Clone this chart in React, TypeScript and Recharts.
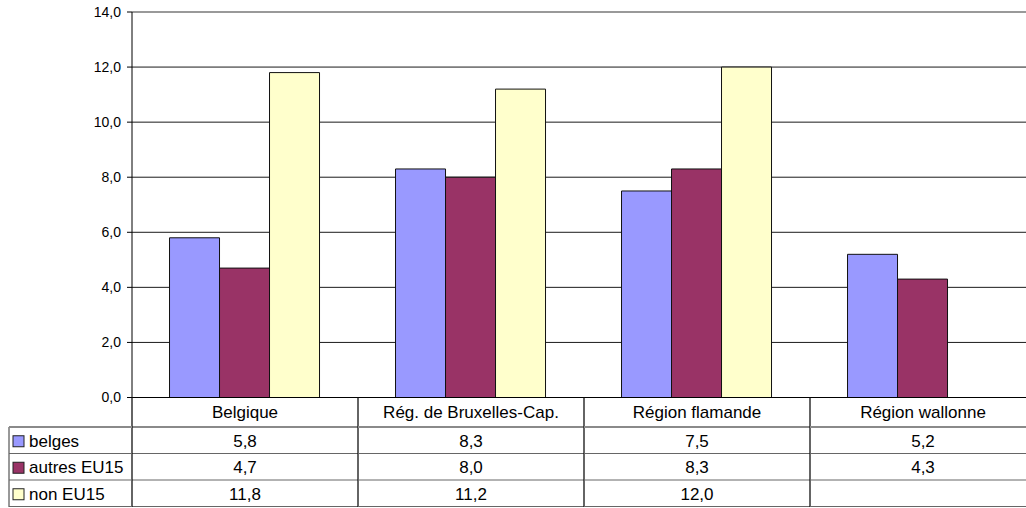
import { BarChart, Bar, XAxis, YAxis, CartesianGrid, ReferenceLine } from 'recharts';

const categories = ['Belgique', 'Rég. de Bruxelles-Cap.', 'Région flamande', 'Région wallonne'];
const belges = [5.8, 8.3, 7.5, 5.2];
const autresEU15 = [4.7, 8.0, 8.3, 4.3];
const nonEU15: (number | null)[] = [11.8, 11.2, 12.0, null];
const yTicks = [0, 2, 4, 6, 8, 10, 12, 14];

const series = [
  { key: 'belges', name: 'belges', color: '#9999FF', values: belges },
  { key: 'autres', name: 'autres EU15', color: '#993366', values: autresEU15 },
  { key: 'non', name: 'non EU15', color: '#FFFFCC', values: nonEU15 },
];

const data = categories.map((name, i) => ({
  name,
  belges: belges[i],
  autres: autresEU15[i],
  non: nonEU15[i],
}));

const FONT = '"Liberation Sans", Arial, sans-serif';
const fmt = (v: number | null | undefined) => (v == null ? '' : v.toFixed(1).replace('.', ','));

// table layout (svg coords)
const AXIS_Y = 397.5;
const ROWS = [427, 453.5, 480, 506.5];
const HALF = 113;
const LEGEND_LEFT = 9;
const PLOT_LEFT = 132;

function TableTick(props: any) {
  const { x, payload } = props;
  const i = payload.index;
  const left = x - HALF;
  const right = x + HALF;
  return (
    <g fontFamily={FONT} fontSize={17} fill="#000">
      <text x={x} y={412} textAnchor="middle" dominantBaseline="central" fill="#000">
        {payload.value}
      </text>
      {series.map((s, r) => (
        <text
          key={s.key}
          x={x}
          y={(ROWS[r] + ROWS[r + 1]) / 2 + 1}
          textAnchor="middle"
          dominantBaseline="central"
          fill="#000"
        >
          {fmt(s.values[i])}
        </text>
      ))}
      <line x1={left} x2={right} y1={ROWS[0]} y2={ROWS[0]} stroke="#8a8a8a" strokeWidth={2} />
      {ROWS.slice(1).map((ry) => (
        <line key={ry} x1={left} x2={right} y1={ry} y2={ry} stroke="#666" strokeWidth={1} />
      ))}
      <line x1={right} x2={right} y1={AXIS_Y} y2={507} stroke="#111" strokeWidth={1.3} />
      {i === 0 && (
        <g>
          <line x1={left} x2={left} y1={AXIS_Y} y2={507} stroke="#111" strokeWidth={1.3} />
          <line x1={LEGEND_LEFT} x2={LEGEND_LEFT} y1={ROWS[0]} y2={507} stroke="#333" strokeWidth={1} />
          <line x1={LEGEND_LEFT} x2={PLOT_LEFT} y1={ROWS[0]} y2={ROWS[0]} stroke="#8a8a8a" strokeWidth={2} />
          {ROWS.slice(1).map((ry) => (
            <line key={ry} x1={LEGEND_LEFT} x2={PLOT_LEFT} y1={ry} y2={ry} stroke="#666" strokeWidth={1} />
          ))}
          {series.map((s, r) => {
            const cy = (ROWS[r] + ROWS[r + 1]) / 2 + 1;
            return (
              <g key={s.key}>
                <rect x={13} y={cy - 5.5} width={11} height={11} fill={s.color} stroke="#222" strokeWidth={1} />
                <text x={29} y={cy} dominantBaseline="central" fill="#000">
                  {s.name}
                </text>
              </g>
            );
          })}
        </g>
      )}
    </g>
  );
}

export default function App() {
  return (
    <div
      style={{
        position: 'absolute',
        left: 0,
        top: 0,
        width: 1026,
        height: 508,
        overflow: 'hidden',
        background: '#fff',
      }}
    >
      <BarChart
        width={1050}
        height={508}
        data={data}
        margin={{ top: 12, right: 14, left: 0, bottom: 0 }}
        barGap={0}
        barCategoryGap="16.6%"
        style={{ fontFamily: FONT }}
      >
        <CartesianGrid vertical={false} stroke="#1a1a1a" strokeWidth={1} />
        <YAxis
          width={132}
          domain={[0, 14]}
          ticks={yTicks}
          interval={0}
          tickFormatter={(v: number) => fmt(v)}
          tick={{ fill: '#000', fontSize: 14, fontFamily: FONT }}
          tickSize={5}
          tickMargin={6}
          tickLine={{ stroke: '#000' }}
          axisLine={{ stroke: '#000' }}
        />
        <XAxis
          dataKey="name"
          height={110.5}
          interval={0}
          tickLine={false}
          axisLine={{ stroke: '#000' }}
          tick={<TableTick />}
        />
        <ReferenceLine y={14} stroke="#999" strokeWidth={2} />
        {series.map((s) => (
          <Bar
            key={s.key}
            dataKey={s.key}
            name={s.name}
            fill={s.color}
            stroke="#111"
            strokeWidth={1}
            isAnimationActive={false}
          />
        ))}
      </BarChart>
    </div>
  );
}
